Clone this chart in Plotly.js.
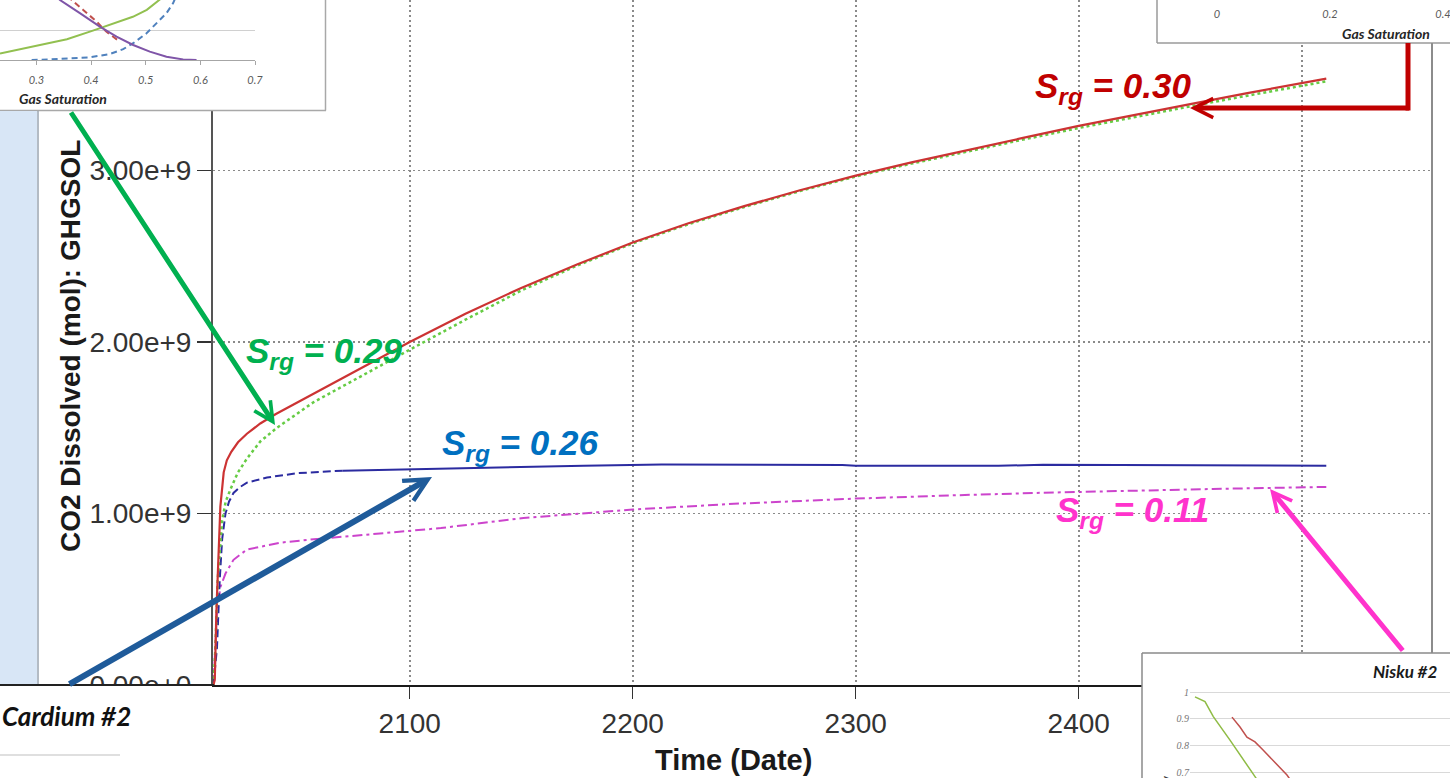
<!DOCTYPE html>
<html>
<head>
<meta charset="utf-8">
<script src="https://cdn.plot.ly/plotly-3.0.1.min.js"></script>
<style>html,body{margin:0;padding:0;background:#fff;}#chart{width:1450px;height:778px;}</style>
</head>
<body>
<div id="chart"></div>
<script>
// ---------------- DATA ----------------
// Main chart: CO2 dissolved (mol) vs time (year)
const srg30Years  = [2012, 2012.6, 2013.3, 2014.4, 2015.1, 2016.6, 2018, 2020, 2023, 2027, 2033, 2040, 2060, 2080, 2100, 2125, 2150, 2175, 2200, 2225, 2250, 2275, 2300, 2325, 2350, 2375, 2400, 2425, 2450, 2475, 2500, 2511];
const srg30Values = [0, 0.03e9, 0.42e9, 0.80e9, 1.04e9, 1.24e9, 1.31e9, 1.36e9, 1.415e9, 1.465e9, 1.525e9, 1.58e9, 1.72e9, 1.86e9, 2.00e9, 2.165e9, 2.315e9, 2.452e9, 2.58e9, 2.692e9, 2.792e9, 2.885e9, 2.97e9, 3.047e9, 3.12e9, 3.19e9, 3.26e9, 3.325e9, 3.387e9, 3.45e9, 3.51e9, 3.536e9];

const srg29Years  = [2012, 2012.9, 2013.9, 2015.9, 2017.5, 2019.6, 2023, 2027, 2033, 2040.5, 2057, 2078, 2100, 2125, 2150, 2175, 2200, 2225, 2250, 2275, 2300, 2325, 2350, 2375, 2400, 2425, 2450, 2475, 2500, 2511];
const srg29Values = [0, 0.22e9, 0.61e9, 0.96e9, 1.07e9, 1.14e9, 1.24e9, 1.32e9, 1.42e9, 1.50e9, 1.65e9, 1.80e9, 1.955e9, 2.13e9, 2.30e9, 2.445e9, 2.575e9, 2.687e9, 2.787e9, 2.88e9, 2.965e9, 3.04e9, 3.112e9, 3.18e9, 3.248e9, 3.312e9, 3.374e9, 3.435e9, 3.495e9, 3.52e9];

const srg26EarlyYears  = [2012, 2013.6, 2014.8, 2015.9, 2017.4, 2019, 2021, 2024, 2027, 2036, 2049.5, 2070];
const srg26EarlyValues = [0, 0.22e9, 0.61e9, 0.85e9, 1.0e9, 1.07e9, 1.12e9, 1.155e9, 1.18e9, 1.21e9, 1.235e9, 1.25e9];
const srg26LateYears   = [2070, 2094.5, 2114, 2156, 2178, 2213, 2294, 2300, 2364, 2384, 2450, 2511];
const srg26LateValues  = [1.25e9, 1.257e9, 1.263e9, 1.273e9, 1.279e9, 1.285e9, 1.283e9, 1.278e9, 1.278e9, 1.284e9, 1.28e9, 1.278e9];

const srg11Years  = [2012, 2012.9, 2013.6, 2015.1, 2017.4, 2021, 2027, 2042, 2057, 2079.4, 2100, 2114, 2151, 2178, 2200, 2243, 2300, 2344, 2384, 2460, 2511];
const srg11Values = [0, 0.22e9, 0.42e9, 0.57e9, 0.65e9, 0.73e9, 0.79e9, 0.83e9, 0.85e9, 0.875e9, 0.90e9, 0.915e9, 0.974e9, 1.0e9, 1.023e9, 1.055e9, 1.087e9, 1.106e9, 1.121e9, 1.143e9, 1.155e9];

const xTickVals = [2100, 2200, 2300, 2400, 2500];
const yTickVals = [0, 1e9, 2e9, 3e9];

// Inset (top-left): relative permeability vs gas saturation
const tlGreenSg  = [0.2333, 0.2936, 0.3558, 0.4033, 0.4161, 0.4764, 0.502, 0.5258, 0.535];
const tlGreenKr  = [0.022, 0.044, 0.069, 0.098, 0.106, 0.144, 0.167, 0.2, 0.215];
const tlPurpleSg = [0.335, 0.343, 0.3795, 0.416, 0.4466, 0.477, 0.5075, 0.538, 0.5684, 0.593];
const tlPurpleKr = [0.215, 0.2, 0.156, 0.111, 0.078, 0.05, 0.028, 0.011, 0.002, 0];
const tlRedSg    = [0.358, 0.3644, 0.3856, 0.41, 0.4283, 0.4527];
const tlRedKr    = [0.215, 0.2, 0.167, 0.128, 0.094, 0.061];
const tlBlueSg   = [0.2912, 0.3247, 0.3978, 0.4344, 0.4587, 0.477, 0.5015, 0.5197, 0.538, 0.55, 0.555];
const tlBlueKr   = [0, 0.002, 0.009, 0.02, 0.036, 0.056, 0.089, 0.122, 0.156, 0.189, 0.21];
const tlTickVals = [0.3, 0.4, 0.5, 0.6, 0.7];
const tlTickText = ['0.3', '0.4', '0.5', '0.6', '0.7'];

// Inset (top-right): only its axis labels are visible
const trTickVals = [0, 0.2, 0.4];
const trTickText = ['0', '0.2', '0.4'];

// Inset (bottom-right): Nisku #2
const brGreenX = [0.0192, 0.0577, 0.0897, 0.1538, 0.25, 0.27];
const brGreenY = [0.982, 0.964, 0.908, 0.82, 0.683, 0.655];
const brRedX   = [0.1615, 0.1923, 0.219, 0.25, 0.281, 0.319, 0.346, 0.373, 0.392];
const brRedY   = [0.906, 0.869, 0.831, 0.813, 0.783, 0.745, 0.719, 0.689, 0.663];
const brTickVals = [0.7, 0.8, 0.9, 1];
const brTickText = ['0.7', '0.8', '0.9', '1'];

// ---------------- helpers (pixel -> paper) ----------------
const W = 1450, H = 778;
const PX = x => x / W;
const PY = y => 1 - y / H;

const SANS = 'Liberation Sans, Arial, sans-serif';
const CAL = 'Lato, Open Sans, sans-serif';

const traces = [
  {x: srg11Years, y: srg11Values, mode: 'lines', line: {color: '#cc44cc', width: 2, dash: '10px,4px,3px,4px'}},
  {x: srg26EarlyYears, y: srg26EarlyValues, mode: 'lines', line: {color: '#2b2ba0', width: 2, dash: '8px,4px'}},
  {x: srg26LateYears, y: srg26LateValues, mode: 'lines', line: {color: '#2b2ba0', width: 2}},
  {x: srg29Years, y: srg29Values, mode: 'lines', line: {color: '#66cc44', width: 2.5, dash: 'dot'}},
  {x: srg30Years, y: srg30Values, mode: 'lines', line: {color: '#cc3333', width: 2.2}},
  // top-left inset background subplot + chart
  {x: [null], y: [null], xaxis: 'x2', yaxis: 'y2', mode: 'lines'},
  {x: tlBlueSg, y: tlBlueKr, xaxis: 'x3', yaxis: 'y3', mode: 'lines', line: {color: '#4f81bd', width: 2, dash: '6px,4px'}},
  {x: tlRedSg, y: tlRedKr, xaxis: 'x3', yaxis: 'y3', mode: 'lines', line: {color: '#c0504d', width: 2, dash: '6px,4px'}},
  {x: tlGreenSg, y: tlGreenKr, xaxis: 'x3', yaxis: 'y3', mode: 'lines', line: {color: '#92c050', width: 2}},
  {x: tlPurpleSg, y: tlPurpleKr, xaxis: 'x3', yaxis: 'y3', mode: 'lines', line: {color: '#7f55a8', width: 2}},
  // top-right inset
  {x: [null], y: [null], xaxis: 'x4', yaxis: 'y4', mode: 'lines'},
  {x: [null], y: [null], xaxis: 'x5', yaxis: 'y5', mode: 'lines'},
  // bottom-right inset
  {x: [null], y: [null], xaxis: 'x6', yaxis: 'y6', mode: 'lines'},
  {x: brGreenX, y: brGreenY, xaxis: 'x7', yaxis: 'y7', mode: 'lines', line: {color: '#8fbc45', width: 1.5}},
  {x: brRedX, y: brRedY, xaxis: 'x7', yaxis: 'y7', mode: 'lines', line: {color: '#c0504d', width: 1.5}}
];
traces.forEach(t => { t.showlegend = false; t.hoverinfo = 'skip'; });

const hidden = (dom, anchor) => ({domain: dom, range: [0, 1], visible: false, anchor: anchor, fixedrange: true});

const layout = {
  width: W, height: H,
  margin: {l: 0, r: 0, t: 0, b: 0, pad: 0},
  paper_bgcolor: '#ffffff', plot_bgcolor: '#ffffff',
  showlegend: false, hovermode: false,
  xaxis: {
    domain: [PX(213), PX(1432)], range: [2011.8, 2558.4], anchor: 'y',
    tickvals: xTickVals, ticks: 'outside', ticklen: 12, tickwidth: 1.5, tickcolor: '#333',
    showline: true, linecolor: '#1a1a1a', linewidth: 2,
    showgrid: true, gridcolor: '#8a8a8a', griddash: '2px,3px', gridwidth: 1.6, zeroline: false,
    tickfont: {family: SANS, size: 28, color: '#333'}
  },
  yaxis: {
    domain: [PY(685), 1], range: [0, 685 / 171.5 * 1e9], anchor: 'x',
    tickvals: yTickVals, tickformat: '.2e', ticks: 'outside', ticklen: 14, tickwidth: 1.5, tickcolor: '#333',
    showline: true, linecolor: '#555', linewidth: 2,
    showgrid: true, gridcolor: '#8a8a8a', griddash: '2px,3px', gridwidth: 1.6, zeroline: false,
    tickfont: {family: SANS, size: 28, color: '#333'}
  },
  xaxis2: hidden([0, PX(325)], 'y2'),
  yaxis2: hidden([PY(110), 1], 'x2'),
  xaxis3: {
    domain: [0, PX(255)], range: [0.2333, 0.7], anchor: 'y3',
    tickvals: tlTickVals, ticktext: tlTickText, ticks: 'outside', ticklen: 4, tickcolor: '#a6a6a6',
    showline: true, linecolor: '#a6a6a6', linewidth: 1, showgrid: false, zeroline: false,
    ticklabelstandoff: 6,
    tickfont: {family: CAL, size: 11, color: '#595959', style: 'italic'}
  },
  yaxis3: {
    domain: [PY(60), 1], range: [0, 0.2], anchor: 'x3', dtick: 0.1,
    showgrid: true, gridcolor: '#d0d0d0', gridwidth: 1, showticklabels: false, ticks: '', showline: false, zeroline: false
  },
  xaxis4: hidden([PX(1157), 1], 'y4'),
  yaxis4: hidden([PY(43), 1], 'x4'),
  xaxis5: {
    domain: [PX(1170), 1], range: [(1170 - 1217) / 565, (1450 - 1217) / 565], anchor: 'y5',
    tickvals: trTickVals, ticktext: trTickText, ticks: '', showline: false, showgrid: false, zeroline: false,
    ticklabeloverflow: 'allow',
    tickfont: {family: CAL, size: 11, color: '#595959', style: 'italic'}
  },
  yaxis5: {domain: [PY(6), 1], range: [0, 1], visible: false, anchor: 'x5'},
  xaxis6: hidden([PX(1142), 1], 'y6'),
  yaxis6: hidden([0, PY(653)], 'x6'),
  xaxis7: {domain: [PX(1190), 1], range: [0, 1], visible: false, anchor: 'y7'},
  yaxis7: {
    domain: [0, PY(680)], range: [0.678, 1.045], anchor: 'x7',
    tickvals: brTickVals, ticktext: brTickText, ticks: '', showline: false,
    showgrid: true, gridcolor: '#d9d9d9', gridwidth: 1, zeroline: false,
    tickfont: {family: 'Liberation Serif, serif', size: 10, color: '#777', style: 'italic'}
  },
  shapes: [
    // inset backgrounds (drawn inside their own subplots, above the main chart)
    {type: 'rect', xref: 'x2', yref: 'y2', x0: 0, x1: 1, y0: 0, y1: 1, fillcolor: '#ffffff', line: {width: 0}, layer: 'below'},
    {type: 'rect', xref: 'x4', yref: 'y4', x0: 0, x1: 1, y0: 0, y1: 1, fillcolor: '#ffffff', line: {width: 0}, layer: 'below'},
    {type: 'rect', xref: 'x6', yref: 'y6', x0: 0, x1: 1, y0: 0, y1: 1, fillcolor: '#ffffff', line: {width: 0}, layer: 'below'},
    // inset borders
    {type: 'line', xref: 'paper', yref: 'paper', x0: PX(325.5), x1: PX(325.5), y0: PY(0), y1: PY(110.5), line: {color: '#a8a8a8', width: 1.5}},
    {type: 'line', xref: 'paper', yref: 'paper', x0: 0, x1: PX(326), y0: PY(110.5), y1: PY(110.5), line: {color: '#a8a8a8', width: 1.5}},
    {type: 'line', xref: 'paper', yref: 'paper', x0: PX(1157), x1: PX(1157), y0: PY(0), y1: PY(43), line: {color: '#9a9a9a', width: 1.5}},
    {type: 'line', xref: 'paper', yref: 'paper', x0: PX(1157), x1: 1, y0: PY(43), y1: PY(43), line: {color: '#9a9a9a', width: 1.5}},
    {type: 'line', xref: 'paper', yref: 'paper', x0: PX(1142), x1: PX(1142), y0: PY(653), y1: 0, line: {color: '#8a8a8a', width: 1.5}},
    {type: 'line', xref: 'paper', yref: 'paper', x0: PX(1142), x1: 1, y0: PY(653), y1: PY(653), line: {color: '#8a8a8a', width: 1.5}},
    // right frame of the main plot
    {type: 'line', xref: 'paper', yref: 'paper', x0: PX(1432), x1: PX(1432), y0: PY(43), y1: PY(653), line: {color: '#8c8c8c', width: 2}},
    // left window strip
    {type: 'rect', xref: 'paper', yref: 'paper', x0: 0, x1: PX(37), y0: PY(685), y1: PY(111), fillcolor: '#d8e6f6', line: {width: 0}},
    {type: 'line', xref: 'paper', yref: 'paper', x0: PX(38), x1: PX(38), y0: PY(685), y1: PY(111), line: {color: '#9aa4b0', width: 1.5}},
    // bottom-left caption panel
    {type: 'rect', xref: 'paper', yref: 'paper', x0: 0, x1: PX(212), y0: 0, y1: PY(686), fillcolor: '#ffffff', line: {width: 0}},
    {type: 'line', xref: 'paper', yref: 'paper', x0: 0, x1: PX(214), y0: PY(685), y1: PY(685), line: {color: '#222', width: 2}},
    {type: 'line', xref: 'paper', yref: 'paper', x0: 0, x1: PX(120), y0: PY(755), y1: PY(755), line: {color: '#bfbfbf', width: 1}},
    // red elbow connector
    {type: 'line', xref: 'paper', yref: 'paper', x0: PX(1408), x1: PX(1408), y0: PY(43), y1: PY(110.5), line: {color: '#c00000', width: 5}}
  ],
  annotations: []
};

const A = layout.annotations;
function label(txt, x, y, color, opts) {
  A.push(Object.assign({text: txt, xref: 'paper', yref: 'paper', x: PX(x), y: PY(y), showarrow: false,
    xanchor: 'left', yanchor: 'middle', font: {family: SANS, size: 35, color: color}}, opts || {}));
}
function arrow(hx, hy, tx, ty, color, width) {
  A.push({text: '', xref: 'paper', yref: 'paper', x: PX(hx), y: PY(hy), ax: tx - hx, ay: ty - hy,
    showarrow: true, arrowhead: 5, arrowsize: 0.75, arrowwidth: width, arrowcolor: color, standoff: 0, startstandoff: 0});
}

label('<b><i>S<sub>rg</sub> = 0.30</i></b>', 1033, 88, '#c00000');
label('<b><i>S<sub>rg</sub> = 0.29</i></b>', 244, 353, '#00b050');
label('<b><i>S<sub>rg</sub> = 0.26</i></b>', 440, 445, '#0070c0');
label('<b><i>S<sub>rg</sub> = 0.11</i></b>', 1054, 512, '#ff33cc');

arrow(1190, 108, 1410.5, 108, '#c00000', 5);
arrow(275, 425, 70, 111, '#00b050', 5);
arrow(432, 477, 68, 685, '#1f5b9a', 6);
arrow(1270, 489, 1404, 652, '#ff33cc', 5);

// axis titles
A.push({text: '<b>Time (Date)</b>', xref: 'paper', yref: 'paper', x: PX(733), y: PY(760), showarrow: false,
  xanchor: 'center', yanchor: 'middle', font: {family: SANS, size: 29, color: '#1a1a1a'}});
A.push({text: '<b>CO2 Dissolved (mol): GHGSOL</b>', xref: 'paper', yref: 'paper', x: PX(70), y: PY(346), showarrow: false,
  textangle: -90, xanchor: 'center', yanchor: 'middle', font: {family: SANS, size: 28, color: '#1a1a1a'}});

// inset texts
A.push({text: '<b><i>Gas Saturation</i></b>', xref: 'paper', yref: 'paper', x: PX(63), y: PY(98), showarrow: false,
  xanchor: 'center', yanchor: 'middle', font: {family: CAL, size: 14, color: '#262626'}});
A.push({text: '<b><i>Gas Saturation</i></b>', xref: 'paper', yref: 'paper', x: PX(1386), y: PY(33), showarrow: false,
  xanchor: 'center', yanchor: 'middle', font: {family: CAL, size: 14, color: '#262626'}});
A.push({text: '<b><i>Nisku #2</i></b>', xref: 'paper', yref: 'paper', x: PX(1405), y: PY(671), showarrow: false,
  xanchor: 'center', yanchor: 'middle', font: {family: CAL, size: 17, color: '#1a1a1a'}});
A.push({text: '<b>Relative Permeability</b>', xref: 'paper', yref: 'paper', x: PX(1166), y: PY(832), showarrow: false,
  textangle: -90, xanchor: 'center', yanchor: 'middle', font: {family: CAL, size: 12, color: '#404040'}});
A.push({text: '<b><i>Cardium #2</i></b>', xref: 'paper', yref: 'paper', x: 0, y: PY(716), showarrow: false,
  xanchor: 'left', yanchor: 'middle', font: {family: CAL, size: 26, color: '#111'}});

Plotly.newPlot('chart', traces, layout, {staticPlot: true, displayModeBar: false});
</script>
</body>
</html>
